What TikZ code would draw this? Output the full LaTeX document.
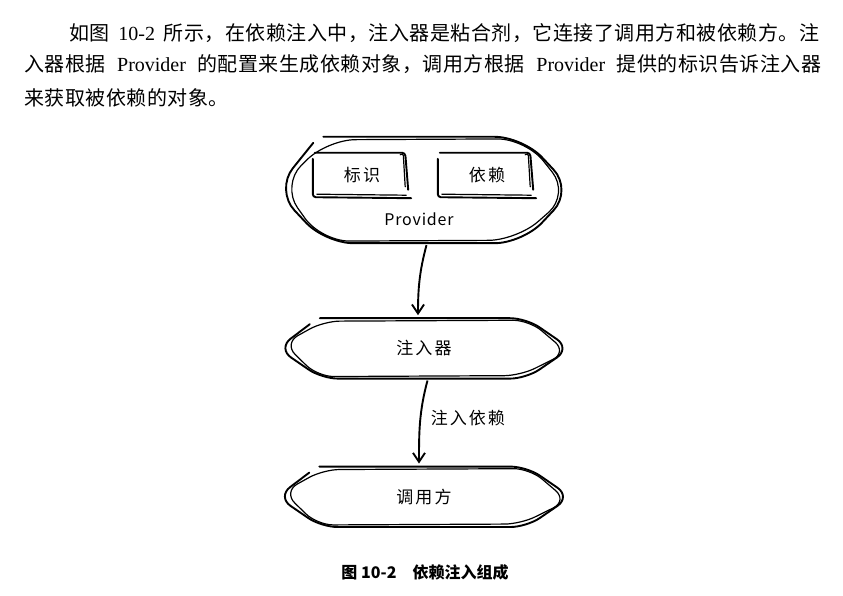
\documentclass[tikz,border=0pt]{standalone}
\usepackage{fontspec}
\setmainfont{Liberation Serif}
\newfontfamily\cjk{Noto Sans CJK SC}
\newfontfamily\cjkpara[LetterSpace=2.5]{Noto Sans CJK SC}
\newfontfamily\hand[LetterSpace=12]{Noto Sans CJK SC}
\usepackage{tikz}
\usetikzlibrary{arrows.meta,positioning}

\begin{document}
\begin{tikzpicture}[x=1pt,y=1pt,
      blob_node/.style={
         rectangle,
         inner sep=0pt,
         font=\hand\fontsize{17}{20}\selectfont},
      box_node/.style={
         rectangle,
         minimum width=100pt,
         minimum height=44pt,
         inner sep=0pt,
         font=\hand\fontsize{17}{20}\selectfont},
      blob_line/.style={
         draw=black,
         line width=1.9pt,
         line join=round,
         line cap=round},
      blob_line2/.style={
         draw=black,
         line width=1.2pt,
         line join=round,
         line cap=round},
      para_text/.style={
         inner sep=0pt,
         anchor=west,
         font=\fontsize{20}{24}\selectfont},
      arrow_sketch/.style={
         -{Straight Barb[length=9pt,width=12pt]},
         line width=1.9pt,
         shorten <=2pt,
         shorten >=3pt}
]
      \useasboundingbox (0,0) rectangle (843,595);
      \fill[white] (0,0) rectangle (843,595);

      %text above the figure
      \node[para_text] (para_1) at (69,562) {\makebox[750pt][s]{{\cjkpara 如图} 10-2 {\cjkpara 所示，在依赖注入中，注入器是粘合剂，它连接了调用方和被依赖方。注}}};
      \node[para_text] (para_2) at (24,531) {\makebox[797pt][s]{{\cjkpara 入器根据} Provider {\cjkpara 的配置来生成依赖对象，调用方根据} Provider {\cjkpara 提供的标识告诉注入器}}};
      \node[para_text] (para_3) at (24,497) {\cjkpara 来获取被依赖的对象。};

      %provider
      \node[blob_node, minimum width=297pt, minimum height=106pt] (prov) at (424,405) {};
      \node[font=\hand\addfontfeature{LetterSpace=5}\fontsize{16}{19}\selectfont] (prov_lbl) at (419,376) {Provider};
      \node[box_node] (mark) at (362,420) {标识};
      \node[box_node] (dep) at (487,420) {依赖};

      %injector and caller
      \node[blob_node, minimum width=292pt, minimum height=60pt, below=75pt of prov] (inj) {注入器};
      \node[blob_node, minimum width=293pt, minimum height=60pt, below=88pt of inj] (call) {调用方};

      \foreach \n/\d/\r in {prov/50pt/28pt, inj/44pt/16pt, call/44pt/16pt} {
         \draw[blob_line, rounded corners=\r] ([xshift=\d-2pt]\n.north west)
            -- ([xshift=-\d]\n.north east) -- (\n.east)
            -- ([xshift=-\d]\n.south east) -- ([xshift=\d]\n.south west) -- (\n.west)
            -- ([xshift=\d-12pt,yshift=-6pt]\n.north west);
         \draw[blob_line2, rounded corners=\r] ([xshift=6pt,yshift=5pt]\n.west)
            -- ([xshift=\d+2pt,yshift=-3pt]\n.north west)
            -- ([xshift=-\d+3pt,yshift=-2pt]\n.north east) -- ([xshift=-3pt,yshift=-4pt]\n.east)
            -- ([xshift=-\d-6pt,yshift=3pt]\n.south east) -- ([xshift=\d-4pt,yshift=2pt]\n.south west) -- cycle;
      }

      \foreach \b in {mark, dep} {
         \draw[blob_line, rounded corners=3pt] ([xshift=3pt]\b.north west) -- ([xshift=-7pt]\b.north east)
            -- ([xshift=-4pt,yshift=-37pt]\b.north east);
         \draw[blob_line2, rounded corners=3pt] ([xshift=-12pt,yshift=-2pt]\b.north east)
            -- ([xshift=-9pt]\b.north east) -- ([xshift=-7pt,yshift=-34pt]\b.north east);
         \draw[blob_line, rounded corners=3pt] ([xshift=1pt,yshift=-6pt]\b.north west) -- ([xshift=1pt]\b.south west)
            -- ([xshift=-1pt,yshift=-1pt]\b.south east);
         \draw[blob_line2] ([xshift=5pt,yshift=3pt]\b.south west) -- ([xshift=-6pt,yshift=2pt]\b.south east);
      }

      \draw [arrow_sketch] ([xshift=3pt]prov.south) to[out=255,in=90] ([xshift=-6pt]inj.north);
      \draw [arrow_sketch] ([xshift=4pt]inj.south) to[out=255,in=90]
            node[pos=0.45, right=6pt, font=\hand\fontsize{17}{20}\selectfont] (inj_lbl) {注入依赖}
            ([xshift=-5pt]call.north);

      %caption
      \node[font=\cjk\bfseries\fontsize{16}{19}\selectfont] (cap) at (425,23) {图 10-2\hspace{1em}依赖注入组成};
\end{tikzpicture}
\end{document}
